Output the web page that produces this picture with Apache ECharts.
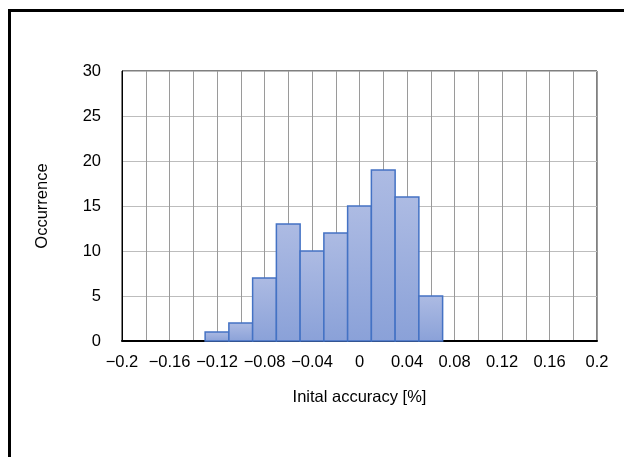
<!DOCTYPE html>
<html>
<head>
<meta charset="utf-8">
<script src="https://cdn.jsdelivr.net/npm/echarts@6/dist/echarts.min.js"></script>
<style>
html,body{margin:0;padding:0;background:#fff;}
#chart{width:624px;height:457px;}
</style>
</head>
<body>
<div id="chart"></div>
<script>
// Histogram data
const binCenters = [-0.12, -0.10, -0.08, -0.06, -0.04, -0.02, 0.00, 0.02, 0.04, 0.06];
const counts = [1, 2, 7, 13, 10, 12, 15, 19, 16, 5];
const binWidth = 0.02;
const xTitle = 'Inital accuracy [%]';
const yTitle = 'Occurrence';

const FONT = '"Liberation Sans", Arial, sans-serif';
const FS = 16.5;
const chart = echarts.init(document.getElementById('chart'), null, {renderer: 'canvas'});

const data = binCenters.map((c, i) => [c - binWidth / 2, c + binWidth / 2, counts[i]]);

function fmt(v) {
  const r = Math.round(v * 100) / 100;
  if (r === 0) return '0';
  return String(r).replace('-', '\u2212');
}

const barFill = new echarts.graphic.LinearGradient(0, 0, 0, 1, [
  {offset: 0, color: '#adbbe3'},
  {offset: 1, color: '#8aa1d8'}
]);

chart.setOption({
  animation: false,
  backgroundColor: '#fff',
  grid: {left: 122, top: 71, right: 27, bottom: 116, show: true, borderColor: '#000', borderWidth: 1, backgroundColor: 'transparent'},
  xAxis: {
    type: 'value', min: -0.2, max: 0.2, interval: 0.04,
    name: xTitle, nameLocation: 'middle', nameGap: 48,
    nameTextStyle: {fontFamily: FONT, fontSize: FS, color: '#000'},
    axisLine: {show: true, onZero: false, lineStyle: {color: '#000', width: 2}},
    axisTick: {show: false},
    axisLabel: {fontFamily: FONT, fontSize: FS, color: '#000', margin: 13, formatter: fmt, showMinLabel: true, showMaxLabel: true},
    splitLine: {show: true, lineStyle: {color: '#9a9a9a', width: 1}},
    minorTick: {show: false, splitNumber: 2},
    minorSplitLine: {show: true, lineStyle: {color: '#9a9a9a', width: 1}}
  },
  yAxis: {
    type: 'value', min: 0, max: 30, interval: 5,
    name: yTitle, nameLocation: 'middle', nameGap: 71, nameRotate: 90,
    nameTextStyle: {fontFamily: FONT, fontSize: FS, color: '#000'},
    axisLine: {show: true, onZero: false, lineStyle: {color: '#000', width: 1}},
    axisTick: {show: false},
    axisLabel: {fontFamily: FONT, fontSize: FS, color: '#000', margin: 21},
    splitLine: {show: true, lineStyle: {color: '#bdbdbd', width: 1}}
  },
  series: [{
    type: 'custom',
    data: data,
    encode: {x: [0, 1], y: 2},
    renderItem: function (params, api) {
      const p0 = api.coord([api.value(0), api.value(2)]);
      const p1 = api.coord([api.value(1), 0]);
      return {
        type: 'rect',
        shape: {x: p0[0], y: p0[1], width: p1[0] - p0[0], height: p1[1] - p0[1]},
        style: {fill: barFill, stroke: '#4472c4', lineWidth: 1.5}
      };
    },
    z: 3
  }],
  graphic: [{
    type: 'rect',
    shape: {x: 9.5, y: 10.5, width: 800, height: 800},
    style: {fill: 'none', stroke: '#000', lineWidth: 3},
    silent: true,
    z: 10
  }]
});
</script>
</body>
</html>
